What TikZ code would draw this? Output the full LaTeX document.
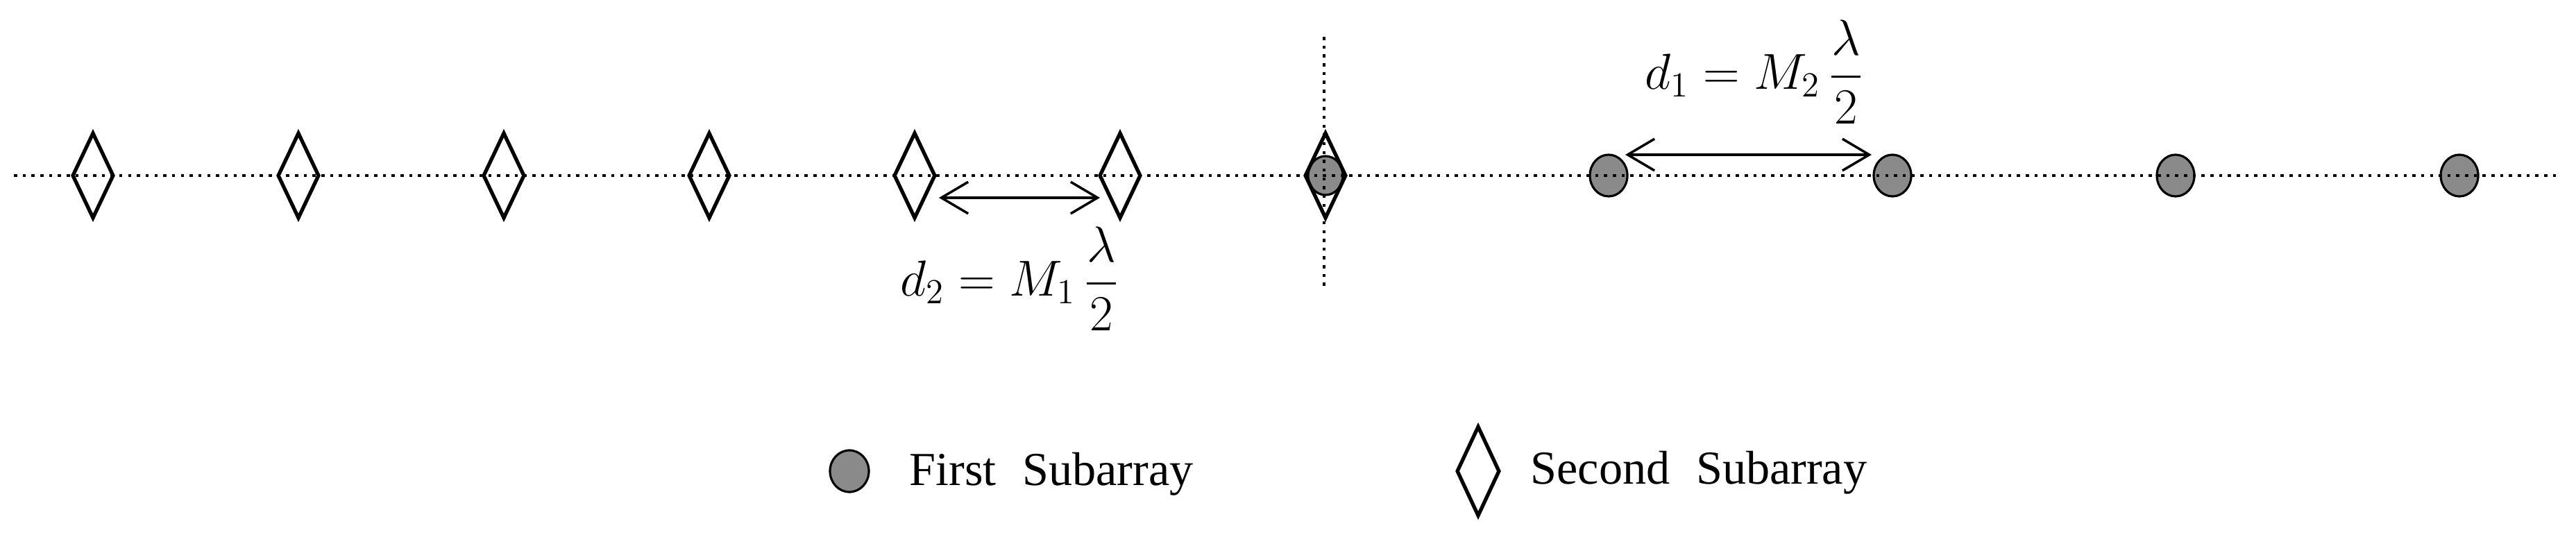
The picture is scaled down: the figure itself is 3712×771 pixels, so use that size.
\documentclass[tikz,border=0pt]{standalone}
\usepackage{amsmath}
\usepackage{fontspec}
\setmainfont{Liberation Serif}
\usetikzlibrary{arrows.meta,shapes.geometric}
\definecolor{cgray}{RGB}{138,138,138}
\begin{document}
\begin{tikzpicture}[x=0.01cm,y=-0.01cm,
  firstel/.style={ellipse, draw=black, line width=0.9pt, fill=cgray, minimum width=0.54cm, minimum height=0.60cm, inner sep=0pt},
  secondel/.style={diamond, draw=black, line width=1.5pt, minimum width=0.60cm, minimum height=1.24cm, inner sep=0pt},
  axisline/.style={line width=1.4pt, dash pattern=on 1.3pt off 2.3pt},
  dimarrow/.style={line width=1pt, {Straight Barb[length=11pt,width=13pt,line width=1pt]}-{Straight Barb[length=11pt,width=13pt,line width=1pt]}},
  mathlbl/.style={inner sep=0pt, font=\fontsize{22.5}{27}\selectfont},
  legendtxt/.style={inner sep=0pt, anchor=base west, font=\fontsize{19.4}{23}\selectfont}
]
\useasboundingbox (0,0) rectangle (3712,771);

% origin element (shared)
\node[firstel, minimum width=0.50cm, minimum height=0.56cm] (c0) at (1910,253) {};
% second subarray
\foreach \k in {0,...,6} {
  \node[secondel] (s\k) at ({134+296*\k},253) {};
}
% first subarray
\node[firstel] (f1) at (2318,253) {};
\node[firstel] (f2) at (2727,253) {};
\node[firstel] (f3) at (3135,253) {};
\node[firstel] (f4) at (3544,253) {};

% axes
\coordinate (axl) at (20,253);
\coordinate (axr) at (3690,253);
\coordinate (axt) at (1908,53);
\coordinate (axb) at (1908,415);
\draw[axisline] (axl) -- (axr);
\draw[axisline] (axt) -- (axb);

% spacing arrows
\coordinate (d2l) at (1353,285);
\coordinate (d2r) at (1585,285);
\draw[dimarrow] (d2l) -- (d2r);
\coordinate (d1l) at (2342,223);
\coordinate (d1r) at (2697,223);
\draw[dimarrow] (d1l) -- (d1r);

% labels
\node[mathlbl] (lab1) at (2528,104) {$d_{1} = M_{2}\,\dfrac{\lambda}{2}$};
\node[mathlbl] (lab2) at (1455,402) {$d_{2} = M_{1}\,\dfrac{\lambda}{2}$};

% legend
\node[firstel, minimum width=0.56cm, minimum height=0.60cm] (legA) at (1224,679) {};
\node[legendtxt] (legAt) at (1310,700) {First\hspace{0.55em}Subarray};
\node[secondel, minimum width=0.62cm, minimum height=1.30cm] (legB) at (2130,679) {};
\node[legendtxt] (legBt) at (2205,698) {Second\hspace{0.55em}Subarray};
\end{tikzpicture}
\end{document}
